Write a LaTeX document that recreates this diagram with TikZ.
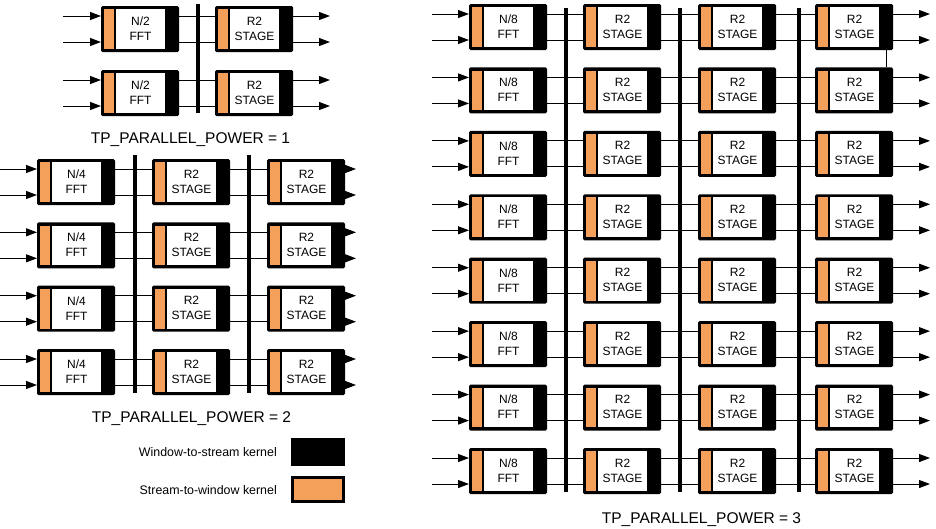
\documentclass[tikz,border=0pt]{standalone}
\usepackage{fontspec}
\setmainfont{Liberation Sans}
\usetikzlibrary{arrows.meta,calc}
\definecolor{orng}{RGB}{244,160,90}
\tikzset{
 blkouter/.style={fill=black, minimum width=78pt, minimum height=46pt, inner sep=0pt, rounded corners=1.5pt},
 blktext/.style={align=center, font=\fontsize{12}{15}\selectfont, inner sep=0pt},
 sig/.style={line width=1pt},
 sigarr/.style={sig, -{Triangle[length=11pt,width=8pt]}},
 vbar/.style={line width=3.5pt},
 caption/.style={font=\fontsize{15.5}{18}\selectfont, inner sep=0pt},
 legtext/.style={font=\fontsize{12.4}{14}\selectfont, anchor=east, inner sep=0pt},
}
\newcommand\blk[5]{%
 \begin{scope}[shift={(#2,#3)}]
 \node[blkouter] (#1) at (39,23) {};
 \fill[orng] (3,3.2) rectangle (13,42.8);
 \fill[white] (15,3.2) rectangle (64,42.8);
 \node[blktext] (#1-t) at (39.5,22.5) {#4\\#5};
 \coordinate (#1-i1) at (0,10);
 \coordinate (#1-i2) at (0,36);
 \coordinate (#1-o1) at (78,10);
 \coordinate (#1-o2) at (78,36);
 \end{scope}}
\begin{document}
\begin{tikzpicture}[x=1pt,y=-1pt]
\useasboundingbox (0,0) rectangle (936,528);

% ---------- TP_PARALLEL_POWER = 1 ----------
\draw[vbar] (198,4) -- (198,113);
\foreach \r/\yy in {1/6,2/70}{
 \blk{a-\r-1}{101}{\yy}{N/2}{FFT}
 \blk{a-\r-2}{215}{\yy}{R2}{STAGE}
 \draw[sigarr] (a-\r-1-i1) ++(-38,0) -- (a-\r-1-i1);
 \draw[sigarr] (a-\r-1-i2) ++(-38,0) -- (a-\r-1-i2);
 \draw[sig] (a-\r-1-o1) -- (a-\r-2-i1);
 \draw[sig] (a-\r-1-o2) -- (a-\r-2-i2);
 \draw[sigarr] (a-\r-2-o1) -- ++(37,0);
 \draw[sigarr] (a-\r-2-o2) -- ++(37,0);
}
\node[caption] (cap1) at (190.5,140) {TP\_PARALLEL\_POWER = 1};

% ---------- TP_PARALLEL_POWER = 2 ----------
\draw[vbar] (135,155) -- (135,393);
\draw[vbar] (249,155) -- (249,393);
\foreach \r/\yy in {1/159,2/222.3,3/285.7,4/349}{
 \blk{b-\r-1}{37}{\yy}{N/4}{FFT}
 \blk{b-\r-2}{152}{\yy}{R2}{STAGE}
 \blk{b-\r-3}{267}{\yy}{R2}{STAGE}
 \draw[sigarr] (b-\r-1-i1) ++(-37,0) -- (b-\r-1-i1);
 \draw[sigarr] (b-\r-1-i2) ++(-37,0) -- (b-\r-1-i2);
 \draw[sig] (b-\r-1-o1) -- (b-\r-2-i1);
 \draw[sig] (b-\r-1-o2) -- (b-\r-2-i2);
 \draw[sig] (b-\r-2-o1) -- (b-\r-3-i1);
 \draw[sig] (b-\r-2-o2) -- (b-\r-3-i2);
 \draw[sigarr] (b-\r-3-o1) -- ++(11,0);
 \draw[sigarr] (b-\r-3-o2) -- ++(11,0);
}
\node[caption] (cap2) at (191.5,419) {TP\_PARALLEL\_POWER = 2};

% ---------- legend ----------
\node[legtext] (l1) at (277,452) {Window-to-stream kernel};
\node[legtext] (l2) at (277,490) {Stream-to-window kernel};
\fill[black] (291,438) rectangle (345,466);
\draw[fill=orng, line width=3pt] (292.5,477.5) rectangle (343.5,501.5);

% ---------- TP_PARALLEL_POWER = 3 ----------
\draw[vbar] (566,8) -- (566,492);
\draw[vbar] (680,8) -- (680,492);
\draw[vbar] (799,8) -- (799,492);
\foreach \r in {1,...,8}{
 \pgfmathsetmacro\yy{4+63.43*(\r-1)}
 \blk{c-\r-1}{469}{\yy}{N/8}{FFT}
 \blk{c-\r-2}{583}{\yy}{R2}{STAGE}
 \blk{c-\r-3}{698}{\yy}{R2}{STAGE}
 \blk{c-\r-4}{815}{\yy}{R2}{STAGE}
 \draw[sigarr] (c-\r-1-i1) ++(-37,0) -- (c-\r-1-i1);
 \draw[sigarr] (c-\r-1-i2) ++(-37,0) -- (c-\r-1-i2);
 \draw[sig] (c-\r-1-o1) -- (c-\r-2-i1);
 \draw[sig] (c-\r-1-o2) -- (c-\r-2-i2);
 \draw[sig] (c-\r-2-o1) -- (c-\r-3-i1);
 \draw[sig] (c-\r-2-o2) -- (c-\r-3-i2);
 \draw[sig] (c-\r-3-o1) -- (c-\r-4-i1);
 \draw[sig] (c-\r-3-o2) -- (c-\r-4-i2);
 \draw[sigarr] (c-\r-4-o1) -- ++(37,0);
 \draw[sigarr] (c-\r-4-o2) -- ++(37,0);
}
\draw[sig] ($(c-1-4.south east)+(-7,0)$) -- ($(c-2-4.north east)+(-7,0)$);
\node[caption] (cap3) at (701.5,520) {TP\_PARALLEL\_POWER = 3};
\end{tikzpicture}
\end{document}
